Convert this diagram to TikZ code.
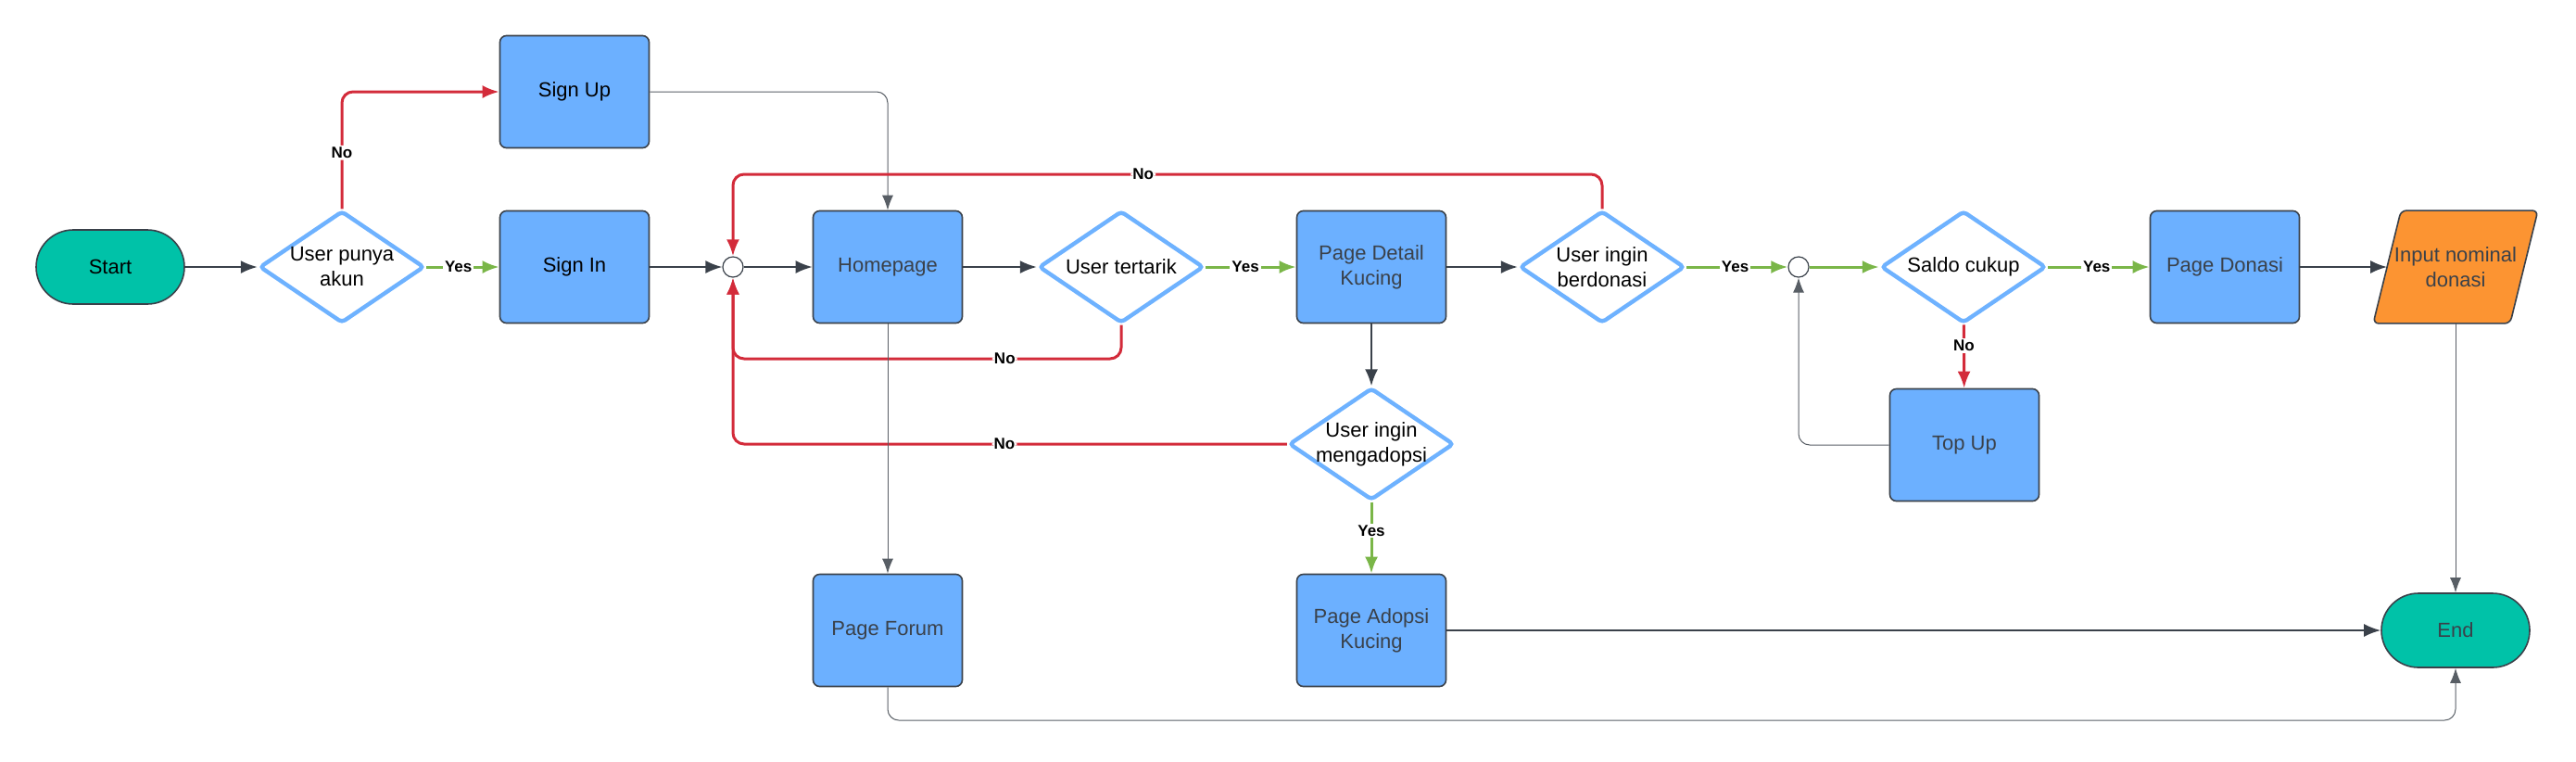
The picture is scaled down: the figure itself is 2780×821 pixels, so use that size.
\documentclass[tikz,border=0pt]{standalone}
\usepackage{fontspec}
\setmainfont{Liberation Sans}
\usetikzlibrary{shapes.geometric,arrows.meta,backgrounds}
\definecolor{boxblue}{RGB}{108,176,255}
\definecolor{diablue}{RGB}{110,178,255}
\definecolor{termteal}{RGB}{0,194,168}
\definecolor{inorange}{RGB}{252,148,50}
\definecolor{lred}{RGB}{211,43,58}
\definecolor{lgreen}{RGB}{122,182,72}
\definecolor{dark}{RGB}{58,65,74}
\begin{document}
\begin{tikzpicture}[x=0.5pt,y=-0.5pt,
  txt/.style={font=\fontsize{11}{13.5}\selectfont},
  box/.style={rectangle, draw=dark, line width=0.8pt, fill=boxblue, rounded corners=3.5pt,
    minimum width=80.5pt, minimum height=60.5pt, align=center, txt, text=dark, inner sep=2pt},
  term/.style={rectangle, draw=dark, line width=0.8pt, fill=termteal, rounded corners=20pt,
    minimum width=80pt, minimum height=40pt, txt, inner sep=2pt},
  dia/.style={diamond, draw=diablue, line width=2.2pt, fill=white, rounded corners=2pt,
    minimum width=89pt, minimum height=60.5pt, inner sep=0pt},
  dtxt/.style={align=center, txt, text=black},
  junc/.style={circle, draw=dark, line width=0.6pt, fill=white, minimum size=11pt, inner sep=0pt},
  darr/.style={draw=dark, line width=1pt, -{Latex[length=9pt,width=7pt]}},
  garr/.style={draw=lgreen, line width=1.5pt, -{Latex[length=9pt,width=7pt]}},
  rarr/.style={draw=lred, line width=1.5pt, rounded corners=6pt, -{Latex[length=9pt,width=7pt]}},
  tarr/.style={draw=dark!85, line width=0.5pt, rounded corners=6pt, -{Latex[length=8pt,width=6pt]}},
  lbl/.style={fill=white, inner sep=1pt, font=\bfseries\fontsize{8.5}{10}\selectfont, text=black}
]
\useasboundingbox (0,0) rectangle (2780,821);

% nodes
\node[term] (start) at (119,288) {Start};
\node[dia, label={[dtxt]center:User punya\\akun}] (d1) at (369,288) {};
\node[box, text=black] (signup) at (620,99) {Sign Up};
\node[box, text=black] (signin) at (620,288) {Sign In};
\node[junc] (j1) at (791,288) {};
\node[box] (home) at (958,288) {Homepage};
\node[dia, label={[dtxt]center:User tertarik}] (tt) at (1210,288) {};
\node[box] (detail) at (1480,288) {Page Detail\\Kucing};
\node[dia, label={[dtxt]center:User ingin\\berdonasi}] (bd) at (1729,288) {};
\node[junc] (j2) at (1941,288) {};
\node[dia, label={[dtxt]center:Saldo cukup}] (sc) at (2119,288) {};
\node[box] (donasi) at (2401,288) {Page Donasi};
\node[rectangle, minimum width=73.5pt, minimum height=60.5pt, inner sep=0pt, align=center, txt, text=dark] (inp) at (2650,288) {Input nominal\\donasi};
\begin{scope}[on background layer]
  \draw[draw=dark, line width=0.8pt, fill=inorange, rounded corners=3pt]
    ([xshift=7.5pt]inp.north west) -- ([xshift=7.5pt]inp.north east) --
    ([xshift=-7.5pt]inp.south east) -- ([xshift=-7.5pt]inp.south west) -- cycle;
\end{scope}
\node[box] (topup) at (2120,480) {Top Up};
\node[dia, label={[dtxt]center:User ingin\\mengadopsi}] (ma) at (1480,479) {};
\node[box] (forum) at (958,680) {Page Forum};
\node[box] (adopsi) at (1480,680) {Page Adopsi\\Kucing};
\node[term, text=dark] (end) at (2650,680) {End};

\coordinate (ytop) at (0,188);
\coordinate (ybot) at (0,387);
\coordinate (yfor) at (0,777);

% connectors
\draw[darr] (start) -- (d1);
\draw[garr] (d1) -- node[lbl,pos=0.44]{Yes} (signin);
\draw[rarr] (d1.north) |- node[lbl,pos=0.24]{No} (signup.west);
\draw[darr] (signin) -- (j1);
\draw[darr] (j1) -- (home);
\draw[tarr] (signup.east) -| (home.north);
\draw[darr] (home) -- (tt);
\draw[garr] (tt) -- node[lbl,pos=0.44]{Yes} (detail);
\draw[rarr] (tt.south) |- node[lbl,pos=0.65]{No} (j1 |- ybot) -- (j1.south);
\draw[rarr] (ma.west) -| node[lbl,pos=0.255]{No} (j1.south);
\draw[rarr] (bd.north) |- node[lbl,pos=0.764]{No} (j1 |- ytop) -- (j1.north);
\draw[darr] (detail) -- (bd);
\draw[darr] (detail) -- (ma);
\draw[garr] (ma) -- node[lbl,pos=0.4]{Yes} (adopsi);
\draw[tarr] (home) -- (forum);
\draw[tarr] (forum.south) |- (end |- yfor) -- (end.south);
\draw[darr] (adopsi) -- (end);
\draw[garr] (bd) -- node[lbl,pos=0.48]{Yes} (j2);
\draw[garr] (j2) -- (sc);
\draw[rarr] (sc) -- node[lbl,pos=0.33]{No} (topup);
\draw[garr] (sc) -- node[lbl,pos=0.48]{Yes} (donasi);
\draw[darr] (donasi) -- (inp);
\draw[tarr] (inp.south) -- (end.north);
\draw[tarr] (topup.west) -| (j2.south);
\end{tikzpicture}
\end{document}
